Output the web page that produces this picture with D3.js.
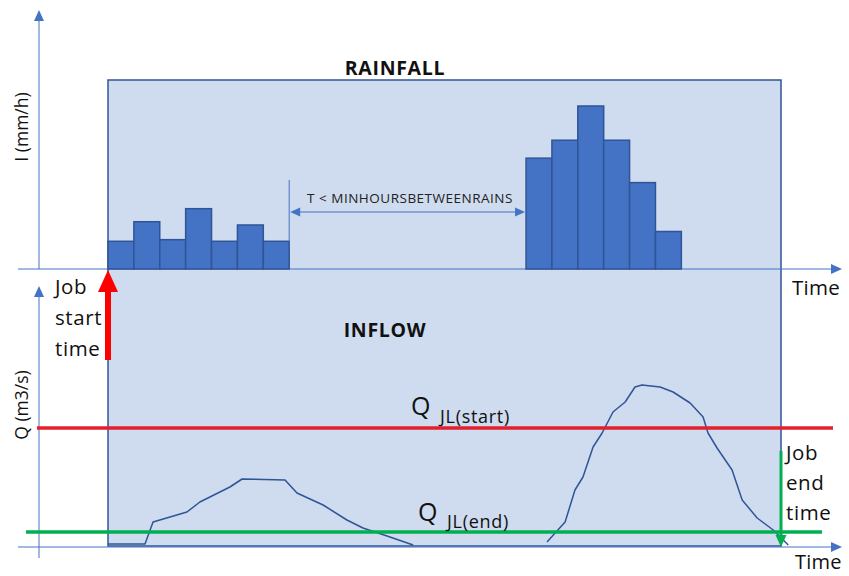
<!DOCTYPE html>
<html><head><meta charset="utf-8">
<script src="https://cdn.jsdelivr.net/npm/d3@7"></script>
<style>body{margin:0;background:#fff}svg{display:block}text{font-family:"Open Sans",Lato,sans-serif}</style>
</head><body>
<script>
// ---- data ----
const rainStart1 = 0;            // h, first storm start
const rainValues1 = [1.7, 2.9, 1.8, 3.7, 1.7, 2.7, 1.7];   // mm/h
const rainStart2 = 16.15;        // h, second storm start
const rainValues2 = [6.8, 7.9, 10.0, 7.9, 5.3, 2.3];       // mm/h
const flowTime1 = [0, 1.43, 1.74, 3.05, 3.55, 4.71, 5.18, 6.84, 7.30, 8.31, 9.23, 9.85, 10.78, 11.79];
const flowQ1    = [0.2, 0.2, 2.4, 3.4, 4.4, 5.9, 6.7, 6.6, 5.3, 4.1, 2.6, 1.8, 1.0, 0.1];
const flowTime2 = [16.96, 17.66, 18.04, 18.35, 18.74, 19.09, 19.51, 19.98, 20.36, 20.63, 21.33, 21.83, 22.49, 22.99, 23.18, 23.53, 24.11, 24.50, 25.08, 25.70, 25.97, 26.28];
const flowQ2    = [0.4, 2.4, 5.6, 6.9, 9.9, 11.3, 13.4, 14.4, 15.9, 16.1, 15.9, 15.4, 14.3, 12.9, 11.3, 9.8, 7.6, 4.6, 2.8, 1.6, 0.9, 0.1];
const jobStart = 0, jobEnd = 26;   // h
const qStart = 11.8, qEnd = 1.4;   // Q_JL(start), Q_JL(end)

const W = 849, H = 576;
const svg = d3.select("body").append("svg").attr("width", W).attr("height", H);

const x = d3.scaleLinear().domain([0, 26]).range([108, 781]);
const yI = d3.scaleLinear().domain([0, 10]).range([269, 106]);
const yQ = d3.scaleLinear().domain([0, 20]).range([546, 346]);

const axisC = "#4472c4", frameC = "#2f5597";

// job window rectangle
svg.append("rect").attr("x", x(jobStart)).attr("y", 80)
  .attr("width", x(jobEnd) - x(jobStart)).attr("height", yQ(0) - 80)
  .attr("fill", "#cfdbef").attr("stroke", frameC).attr("stroke-width", 1.5);

function tri(g, tx, ty, dir, len, half, color) {
  let p;
  if (dir === "up") p = [[tx, ty], [tx - half, ty + len], [tx + half, ty + len]];
  else if (dir === "down") p = [[tx, ty], [tx - half, ty - len], [tx + half, ty - len]];
  else if (dir === "right") p = [[tx, ty], [tx - len, ty - half], [tx - len, ty + half]];
  else p = [[tx, ty], [tx + len, ty - half], [tx + len, ty + half]];
  g.append("path").attr("d", "M" + p.join("L") + "Z").attr("fill", color);
}

// axes
const ax = svg.append("g");
ax.append("line").attr("x1", 18).attr("x2", 832).attr("y1", yI(0)).attr("y2", yI(0)).attr("stroke", axisC).attr("stroke-width", 1);
tri(ax, 842, yI(0), "right", 11, 5, axisC);
ax.append("line").attr("x1", 39).attr("x2", 39).attr("y1", yI(0)).attr("y2", 20).attr("stroke", axisC).attr("stroke-width", 1);
tri(ax, 39, 10, "up", 11, 5, axisC);
ax.append("line").attr("x1", 18).attr("x2", 832).attr("y1", yQ(0) + 1).attr("y2", yQ(0) + 1).attr("stroke", axisC).attr("stroke-width", 1);
tri(ax, 842, yQ(0) + 1, "right", 11, 5, axisC);
ax.append("line").attr("x1", 39).attr("x2", 39).attr("y1", 558).attr("y2", 296).attr("stroke", axisC).attr("stroke-width", 1);
tri(ax, 39, 286, "up", 11, 5, axisC);

// rain bars
const bw = x(1) - x(0);
const rain = rainValues1.map((v, i) => ({t: rainStart1 + i, v}))
  .concat(rainValues2.map((v, i) => ({t: rainStart2 + i, v})));
svg.append("g").selectAll("rect").data(rain).join("rect")
  .attr("x", d => x(d.t)).attr("y", d => yI(d.v))
  .attr("width", bw).attr("height", d => yI(0) - yI(d.v))
  .attr("fill", "#4472c4").attr("stroke", frameC).attr("stroke-width", 1.5);

// gap annotation
const gEnd = rainStart1 + rainValues1.length;
const gx1 = x(gEnd), gx2 = x(rainStart2);
svg.append("line").attr("x1", gx1).attr("x2", gx1).attr("y1", 180).attr("y2", yI(rainValues1[rainValues1.length - 1]))
  .attr("stroke", axisC).attr("stroke-width", 1);
svg.append("line").attr("x1", gx1 + 8).attr("x2", gx2 - 8).attr("y1", 212).attr("y2", 212).attr("stroke", axisC).attr("stroke-width", 1);
tri(svg, gx1 + 1, 212, "left", 10, 4.5, axisC);
tri(svg, gx2 - 1, 212, "right", 10, 4.5, axisC);
svg.append("text").attr("x", 410).attr("y", 203).attr("text-anchor", "middle")
  .attr("font-size", 13.5).attr("letter-spacing", 0.5).attr("fill", "#222").text("T < MINHOURSBETWEENRAINS");

// inflow curve
const line = d3.line().x(d => x(d[0])).y(d => yQ(d[1])).curve(d3.curveLinear);
[[flowTime1, flowQ1], [flowTime2, flowQ2]].forEach(([ts, qs]) => {
  svg.append("path").attr("d", line(ts.map((t, i) => [t, qs[i]])))
    .attr("fill", "none").attr("stroke", frameC).attr("stroke-width", 1.5).attr("stroke-linejoin", "round");
});

// threshold lines
svg.append("line").attr("x1", 37).attr("x2", 833).attr("y1", yQ(qStart)).attr("y2", yQ(qStart))
  .attr("stroke", "#e3202c").attr("stroke-width", 3.5);
svg.append("line").attr("x1", 26).attr("x2", 822).attr("y1", yQ(qEnd)).attr("y2", yQ(qEnd))
  .attr("stroke", "#00b050").attr("stroke-width", 3.5);

// Q labels
function qLabel(xq, yb, sub, xs, ys) {
  svg.append("text").attr("x", xq).attr("y", yb).attr("font-size", 25).attr("fill", "#111").text("Q");
  svg.append("text").attr("x", xs).attr("y", ys).attr("font-size", 18).attr("letter-spacing", 0.7).attr("fill", "#111").text(sub);
}
qLabel(411, 415, "JL(start)", 440, 423);
qLabel(418, 521, "JL(end)", 447, 528);

// job start arrow (red)
svg.append("rect").attr("x", x(jobStart) - 3).attr("y", 290).attr("width", 6).attr("height", 70).attr("fill", "#ff0000");
tri(svg, x(jobStart), 270, "up", 22, 10, "#ff0000");
// job end arrow (green)
svg.append("line").attr("x1", x(jobEnd)).attr("x2", x(jobEnd)).attr("y1", 451).attr("y2", 538)
  .attr("stroke", "#00b050").attr("stroke-width", 3);
tri(svg, x(jobEnd), 547, "down", 12, 5.5, "#00b050");

// texts
const tc = "#111";
svg.append("text").attr("x", 395).attr("y", 75).attr("text-anchor", "middle").attr("font-size", 19.5)
  .attr("letter-spacing", 0.7).attr("font-weight", "bold").attr("fill", tc).text("RAINFALL");
svg.append("text").attr("x", 385).attr("y", 337).attr("text-anchor", "middle").attr("font-size", 19.5)
  .attr("letter-spacing", 0.7).attr("font-weight", "bold").attr("fill", tc).text("INFLOW");
["Job", "start", "time"].forEach((s, i) => svg.append("text").attr("x", 55).attr("y", 294 + i * 31)
  .attr("font-size", 20.5).attr("letter-spacing", 0.6).attr("fill", tc).text(s));
["Job", "end", "time"].forEach((s, i) => svg.append("text").attr("x", 786).attr("y", 460 + i * 30)
  .attr("font-size", 20.5).attr("letter-spacing", 0.6).attr("fill", tc).text(s));
svg.append("text").attr("x", 792).attr("y", 295).attr("font-size", 20.5).attr("letter-spacing", 0.3).attr("fill", tc).text("Time");
svg.append("text").attr("x", 795).attr("y", 569).attr("font-size", 20).attr("letter-spacing", 0.2).attr("fill", tc).text("Time");
svg.append("text").attr("transform", "translate(28,127) rotate(-90)").attr("text-anchor", "middle")
  .attr("font-size", 17.5).attr("fill", tc).text("I (mm/h)");
svg.append("text").attr("transform", "translate(28,405) rotate(-90)").attr("text-anchor", "middle")
  .attr("font-size", 17.5).attr("fill", tc).text("Q (m3/s)");
</script>
</body></html>
